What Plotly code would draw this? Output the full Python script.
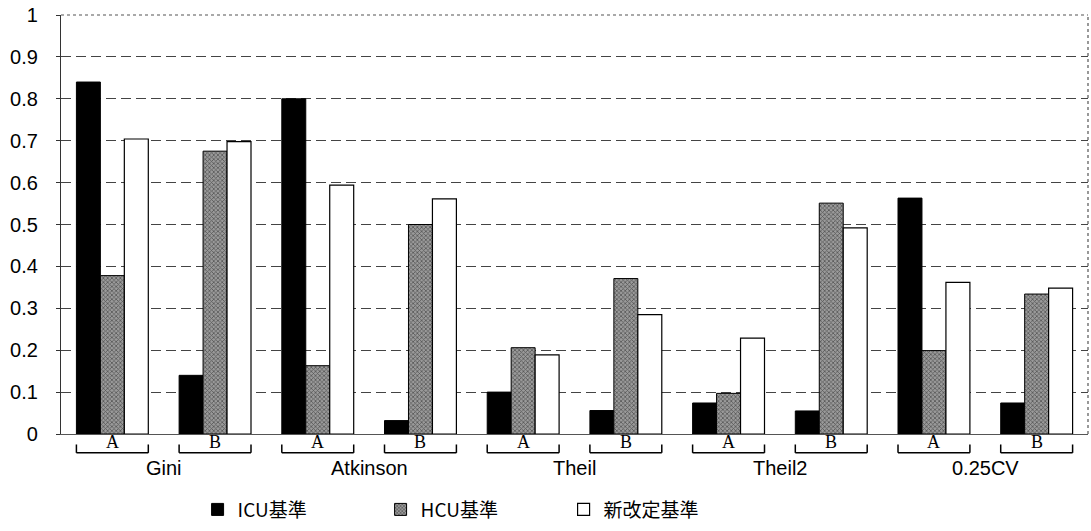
import plotly.graph_objects as go

# Inequality indices, each evaluated for two regions (A, B)
metrics = ["Gini", "Atkinson", "Theil", "Theil2", "0.25CV"]
regions = ["A", "B"]
categories = [f"{m}|{r}" for m in metrics for r in regions]

icu = [0.84, 0.14, 0.80, 0.032, 0.10, 0.056, 0.074, 0.055, 0.563, 0.074]
hcu = [0.378, 0.675, 0.163, 0.50, 0.206, 0.371, 0.097, 0.551, 0.199, 0.334]
new_std = [0.704, 0.698, 0.594, 0.561, 0.189, 0.285, 0.229, 0.492, 0.362, 0.348]

series_names = ["ICU基準", "HCU基準", "新改定基準"]
y_ticks = [0, 0.1, 0.2, 0.3, 0.4, 0.5, 0.6, 0.7, 0.8, 0.9, 1]
y_tick_text = ["0", "0.1", "0.2", "0.3", "0.4", "0.5", "0.6", "0.7", "0.8", "0.9", "1"]

LEGEND_FONT = dict(family="Noto Sans CJK JP, Liberation Sans, sans-serif", size=19, color="#000")
AXIS_FONT = dict(family="Liberation Sans, Arial, sans-serif", size=20, color="#000")
LABEL_FONT = dict(family="Liberation Sans, Arial, sans-serif", size=20, color="#000")

fig = go.Figure()
fig.add_trace(go.Bar(
    name=series_names[0], x=categories, y=icu,
    marker=dict(color="#000000", line=dict(color="#000", width=1)),
))
fig.add_trace(go.Bar(
    name=series_names[1], x=categories, y=hcu,
    marker=dict(
        color="#9a9a9a",
        line=dict(color="#000", width=1),
        pattern=dict(shape="x", fgcolor="#111", size=3, solidity=0.45),
    ),
))
fig.add_trace(go.Bar(
    name=series_names[2], x=categories, y=new_std,
    marker=dict(color="#ffffff", line=dict(color="#000", width=1.2)),
))

shapes = []
annotations = []
half = 0.35
y_line = -0.045
y_tick_top = -0.025
for i, cat in enumerate(categories):
    region = cat.split("|")[1]
    # bracket below each bar group
    shapes.append(dict(type="line", xref="x", yref="paper", x0=i - half, x1=i + half,
                       y0=y_line, y1=y_line, line=dict(color="#000", width=1.5)))
    for xe in (i - half, i + half):
        shapes.append(dict(type="line", xref="x", yref="paper", x0=xe, x1=xe,
                           y0=y_line, y1=y_tick_top, line=dict(color="#000", width=1.5)))
    annotations.append(dict(x=i, y=y_line, xref="x", yref="paper", text=region,
                            showarrow=False, yanchor="bottom", yshift=-1,
                            font=dict(family="Liberation Serif, Times New Roman, serif",
                                      size=18, color="#000")))

for k, m in enumerate(metrics):
    annotations.append(dict(x=2 * k + 0.5, y=-0.082, xref="x", yref="paper", text=m,
                            showarrow=False, yanchor="middle", font=LABEL_FONT))

# dotted frame on the top and right
shapes.append(dict(type="line", xref="paper", yref="paper", x0=0, x1=1, y0=1, y1=1,
                   line=dict(color="#555", width=1.2, dash="dot")))
shapes.append(dict(type="line", xref="paper", yref="paper", x0=1, x1=1, y0=0, y1=1,
                   line=dict(color="#555", width=1.2, dash="dot")))

fig.update_layout(
    width=1091, height=531,
    margin=dict(l=61, r=3, t=15, b=93),
    paper_bgcolor="#ffffff", plot_bgcolor="#ffffff",
    barmode="group", bargap=0.30, bargroupgap=0.0,
    shapes=shapes, annotations=annotations,
    showlegend=True,
    legend=dict(orientation="h", x=0.133, y=-0.135, xanchor="left", yanchor="top",
                font=LEGEND_FONT, entrywidth=138, entrywidthmode="pixels",
                traceorder="normal", bgcolor="rgba(0,0,0,0)"),
    xaxis=dict(type="category", showticklabels=False, ticks="", showgrid=False,
               showline=True, linecolor="#555", linewidth=1.2, zeroline=False,
               range=[-0.5, 9.5], fixedrange=True),
    yaxis=dict(range=[0, 1], tickvals=y_ticks, ticktext=y_tick_text, tickfont=AXIS_FONT,
               showgrid=True, gridcolor="#444", gridwidth=1.4, griddash="10px,5px",
               showline=True, linecolor="#333", linewidth=1.2,
               ticks="outside", ticklen=4, tickcolor="#333",
               ticklabelstandoff=14, zeroline=False, fixedrange=True),
)

fig.write_html("out.html")
